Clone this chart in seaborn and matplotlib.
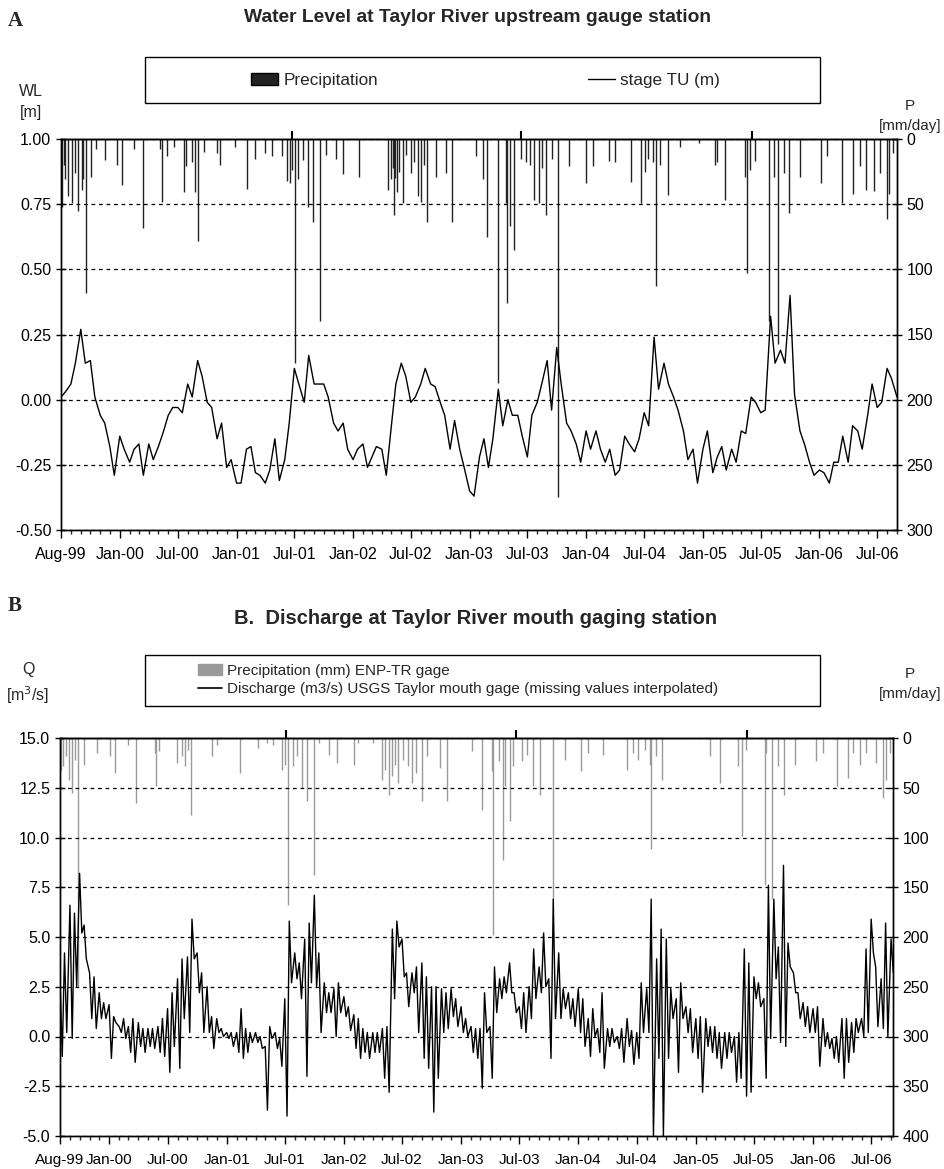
import numpy as np
import pandas as pd
import matplotlib
matplotlib.use("Agg")
import matplotlib.pyplot as plt
import matplotlib.dates as mdates
from matplotlib.patches import Rectangle, Patch
from matplotlib.lines import Line2D
import seaborn as sns

# ---------------- Panel A: upstream stage (semi-monthly readings, m), from 1999-07-01
stage_tu = [
    0.01, 0.03, 0.06, 0.14, 0.27, 0.14, 0.15, 0.01, -0.06, -0.09,
    -0.18, -0.29, -0.14, -0.19, -0.24, -0.19, -0.17, -0.29, -0.17, -0.23,
    -0.18, -0.13, -0.06, -0.03, -0.03, -0.05, 0.06, 0.01, 0.15, 0.09,
    -0.01, -0.03, -0.15, -0.09, -0.26, -0.23, -0.32, -0.32, -0.19, -0.18,
    -0.28, -0.29, -0.32, -0.27, -0.15, -0.31, -0.23, -0.09, 0.12, 0.06,
    -0.01, 0.17, 0.06, 0.06, 0.06, 0.01, -0.09, -0.12, -0.09, -0.19,
    -0.23, -0.19, -0.17, -0.26, -0.22, -0.18, -0.19, -0.29, -0.10, 0.06,
    0.14, 0.09, -0.01, 0.01, 0.06, 0.12, 0.06, 0.05, -0.01, -0.06,
    -0.19, -0.08, -0.19, -0.26, -0.35, -0.37, -0.22, -0.15, -0.26, -0.15,
    0.04, -0.10, 0.00, -0.06, -0.06, -0.14, -0.22, -0.06, -0.01, 0.06,
    0.15, -0.04, 0.20, 0.06, -0.09, -0.12, -0.17, -0.24, -0.12, -0.19,
    -0.12, -0.19, -0.24, -0.19, -0.29, -0.27, -0.14, -0.17, -0.20, -0.15,
    -0.05, -0.10, 0.24, 0.04, 0.14, 0.06, 0.01, -0.04, -0.12, -0.23,
    -0.19, -0.32, -0.19, -0.12, -0.28, -0.22, -0.18, -0.27, -0.19, -0.24,
    -0.12, -0.13, 0.01, -0.01, -0.05, -0.04, 0.32, 0.14, 0.19, 0.14,
    0.40, 0.02, -0.12, -0.17, -0.24, -0.29, -0.27, -0.28, -0.32, -0.24,
    -0.24, -0.14, -0.24, -0.10, -0.12, -0.19, -0.06, 0.06, -0.03, -0.01,
    0.12, 0.08, 0.01,
]

precip_a_dates = [
    "1999-07-03", "1999-07-10", "1999-07-14", "1999-07-24", "1999-08-04", "1999-08-14",
    "1999-08-24", "1999-09-04", "1999-09-09", "1999-09-17", "1999-10-02", "1999-10-20",
    "1999-11-16", "1999-12-25", "2000-01-07", "2000-02-15", "2000-03-15", "2000-05-06",
    "2000-05-11", "2000-05-27", "2000-06-20", "2000-07-20", "2000-07-27", "2000-08-13",
    "2000-08-24", "2000-09-03", "2000-09-20", "2000-10-31", "2000-11-10", "2000-12-27",
    "2001-02-04", "2001-02-28", "2001-03-31", "2001-04-21", "2001-05-22", "2001-06-07",
    "2001-06-17", "2001-06-25", "2001-07-03", "2001-07-13", "2001-07-29", "2001-08-14",
    "2001-08-29", "2001-09-19", "2001-10-07", "2001-11-07", "2001-12-01", "2002-01-20",
    "2002-04-21", "2002-05-01", "2002-05-05", "2002-05-09", "2002-05-13", "2002-05-18",
    "2002-05-25", "2002-06-06", "2002-06-15", "2002-07-02", "2002-07-12", "2002-07-23",
    "2002-08-03", "2002-08-12", "2002-08-21", "2002-09-19", "2002-10-18", "2002-11-08",
    "2003-01-22", "2003-02-12", "2003-02-25", "2003-03-31", "2003-04-26", "2003-04-29",
    "2003-05-08", "2003-05-20", "2003-06-10", "2003-06-27", "2003-07-10", "2003-07-21",
    "2003-08-06", "2003-08-15", "2003-08-27", "2003-09-15", "2003-10-06", "2003-11-10",
    "2004-01-01", "2004-01-24", "2004-03-12", "2004-03-30", "2004-05-21", "2004-06-22",
    "2004-07-02", "2004-07-12", "2004-07-28", "2004-08-08", "2004-08-21", "2004-09-15",
    "2004-10-20", "2004-12-21", "2005-02-07", "2005-02-14", "2005-03-11", "2005-05-12",
    "2005-05-19", "2005-05-28", "2005-06-12", "2005-07-27", "2005-08-11", "2005-08-25",
    "2005-09-11", "2005-09-27", "2005-10-31", "2006-01-07", "2006-01-26", "2006-03-13",
    "2006-04-16", "2006-05-07", "2006-05-28", "2006-06-21", "2006-07-11", "2006-07-31",
    "2006-08-07", "2006-08-20",
]
precip_a_mm = [
    52, 20, 31, 44, 49, 26,
    55, 39, 31, 118, 29, 8,
    16, 20, 35, 8, 68, 8,
    48, 13, 6, 41, 21, 18,
    41, 78, 10, 11, 20, 6,
    38, 15, 11, 13, 13, 32,
    34, 24, 172, 31, 16, 52,
    64, 140, 12, 15, 27, 29,
    39, 31, 22, 58, 30, 41,
    25, 49, 12, 26, 18, 44,
    48, 20, 64, 29, 26, 64,
    13, 31, 75, 187, 49, 126,
    67, 85, 15, 18, 20, 47,
    49, 22, 58, 15, 275, 21,
    34, 21, 17, 18, 33, 49,
    25, 15, 18, 113, 20, 43,
    6, 3, 20, 18, 47, 29,
    103, 24, 17, 140, 29, 157,
    26, 57, 29, 34, 13, 49,
    42, 21, 39, 40, 26, 61,
    42, 11,
]

xticks_a = ["1999-07-01", "2000-01-01", "2000-07-01", "2001-01-01", "2001-07-01",
            "2002-01-01", "2002-07-01", "2003-01-01", "2003-07-01", "2004-01-01",
            "2004-07-01", "2005-01-01", "2005-07-01", "2006-01-01", "2006-07-01"]
xlabels_a = ["Aug-99", "Jan-00", "Jul-00", "Jan-01", "Jul-01", "Jan-02", "Jul-02",
             "Jan-03", "Jul-03", "Jan-04", "Jul-04", "Jan-05", "Jul-05", "Jan-06", "Jul-06"]
top_ticks_a = ["2001-06-25", "2003-06-12", "2005-06-03"]

# ---------------- Panel B: discharge at mouth, semi-monthly high / low readings (m3/s), from 1999-08-01
q_hi = [
    3.0, 4.2, 6.6, 6.2, 8.2, 5.6, 3.2, 3.0, 2.2, 1.7,
    1.6, 1.0, 0.5, 0.9, 0.5, 0.9, 0.7, 0.4, 0.4, 0.4,
    0.5, 0.9, 1.4, 2.2, 2.9, 3.9, 4.0, 5.9, 4.2, 3.2,
    2.5, 1.0, 0.9, 0.4, 0.2, 0.2, 0.2, 1.4, 0.4, 0.2,
    0.2, 0.0, -0.5, 0.5, 0.2, -0.1, 1.9, 5.8, 4.2, 3.7,
    4.9, 5.7, 7.1, 4.2, 2.7, 2.2, 2.4, 2.7, 2.0, 1.5,
    1.1, 0.9, 0.4, 0.2, 0.2, 0.2, 0.4, 0.5, 5.4, 5.8,
    4.9, 3.2, 3.2, 3.5, 3.7, 3.0, 2.5, 2.5, 2.4, 2.2,
    2.4, 1.9, 1.5, 0.9, 0.5, 0.4, 0.4, 2.2, 0.5, 3.5,
    2.9, 3.0, 3.7, 2.2, 1.5, 2.2, 2.5, 4.4, 3.5, 5.2,
    2.9, 6.9, 4.2, 2.4, 2.2, 1.9, 2.4, 1.9, 0.9, 1.4,
    0.4, 2.2, 0.4, 0.4, 0.0, 0.4, 0.9, 0.3, 0.2, 2.7,
    2.4, 6.9, 3.9, 5.4, 4.9, 2.4, 1.9, 2.7, 1.5, 1.4,
    0.9, 1.0, 0.9, 0.5, 0.5, 0.2, 0.2, 0.2, 0.0, 0.2,
    4.4, 3.7, 3.0, 2.7, 1.9, 7.6, 6.9, 4.5, 8.6, 4.7,
    3.2, 2.2, 1.7, 1.5, 1.4, 1.5, 0.9, 0.2, -0.1, 0.0,
    0.9, 0.9, 0.7, 0.9, 0.9, 4.4, 5.9, 3.5, 2.9, 5.7,
    4.9,
]
q_lo = [
    -1.0, 0.2, -0.1, 2.5, 5.2, 3.9, 0.9, 0.4, 0.9, 0.9,
    -1.1, 0.7, 0.2, -0.1, -0.8, -1.3, -0.5, -0.8, -0.5, -0.6,
    -0.8, -1.0, -1.8, -0.5, -1.6, 0.9, 0.2, 3.9, 2.2, 0.2,
    0.2, -0.6, 0.2, 0.0, -0.1, -0.5, -0.8, -1.1, -0.8, -0.3,
    -0.3, -0.6, -3.7, -0.1, -0.6, -1.5, -4.0, 2.7, 2.9, 1.9,
    -2.0, 2.7, 2.5, 0.2, 1.2, 1.2, 0.0, 1.2, 1.0, 0.3,
    -0.6, -1.1, -0.8, -1.1, -0.8, -0.8, -2.1, -2.8, 1.9, 4.5,
    3.0, 1.5, 2.2, 0.2, -1.1, -1.6, -3.8, -2.1, 0.2, 0.4,
    1.0, 0.5, 0.2, 0.0, -0.8, -1.1, -2.6, 0.2, -2.1, 1.2,
    1.9, 2.2, 2.2, 1.2, 0.4, 0.2, 0.9, 1.9, 2.2, 2.5,
    -1.1, 0.9, 0.9, 1.4, 0.9, 0.5, 0.2, -0.5, -1.0, 0.0,
    -0.8, -1.6, -0.5, -0.3, -0.6, -1.3, -0.5, -1.4, -1.1, 0.2,
    0.2, -5.0, -1.1, -5.0, -1.1, 0.9, -1.8, 0.9, 0.2, -0.8,
    -1.1, -2.8, -0.5, -0.8, -1.1, -1.6, -1.1, -0.8, -2.3, -2.1,
    -3.0, -2.8, 1.9, 1.5, -2.1, -0.1, 2.9, -0.3, -0.5, 3.5,
    2.2, 0.9, 0.5, 0.2, 0.2, -1.5, -0.5, -0.6, -1.1, -1.3,
    -2.1, -1.3, -0.8, 0.2, 0.0, 0.2, 4.2, 0.5, 0.4, 0.0,
    3.2,
]

precip_b_dates = [
    "1999-08-04", "1999-08-11", "1999-08-20", "1999-08-30", "1999-09-06", "1999-09-17",
    "1999-09-25", "1999-10-15", "1999-11-23", "2000-01-04", "2000-01-19", "2000-03-01",
    "2000-03-25", "2000-05-23", "2000-05-25", "2000-06-05", "2000-07-31", "2000-08-14",
    "2000-08-24", "2000-09-04", "2000-09-12", "2000-11-15", "2000-12-01", "2001-02-12",
    "2001-04-08", "2001-05-06", "2001-05-26", "2001-06-21", "2001-07-02", "2001-07-12",
    "2001-07-28", "2001-08-09", "2001-08-23", "2001-09-09", "2001-09-30", "2001-10-17",
    "2001-11-17", "2001-12-10", "2002-01-31", "2002-02-15", "2002-04-03", "2002-04-29",
    "2002-05-09", "2002-05-20", "2002-05-30", "2002-06-09", "2002-06-20", "2002-07-05",
    "2002-07-21", "2002-07-31", "2002-08-14", "2002-09-02", "2002-09-18", "2002-10-27",
    "2002-11-19", "2003-02-03", "2003-03-06", "2003-04-06", "2003-04-11", "2003-04-30",
    "2003-05-11", "2003-05-18", "2003-06-02", "2003-06-13", "2003-07-09", "2003-07-24",
    "2003-08-14", "2003-09-04", "2003-10-15", "2003-11-21", "2004-01-08", "2004-02-01",
    "2004-03-19", "2004-05-31", "2004-06-19", "2004-07-05", "2004-07-26", "2004-08-10",
    "2004-08-13", "2004-08-31", "2004-09-19", "2005-02-13", "2005-03-16", "2005-05-12",
    "2005-05-26", "2005-06-07", "2005-08-03", "2005-08-09", "2005-08-27", "2005-09-14",
    "2005-10-02", "2005-11-07", "2006-01-11", "2006-02-01", "2006-03-17", "2006-04-20",
    "2006-05-05", "2006-05-26", "2006-06-16", "2006-07-17", "2006-08-07", "2006-08-15",
    "2006-08-28",
]
precip_b_mm = [
    32, 28, 18, 42, 55, 22,
    250, 27, 15, 18, 35, 7,
    65, 15, 48, 13, 25, 18,
    28, 12, 77, 18, 7, 35,
    10, 5, 7, 32, 27, 168,
    28, 18, 50, 63, 138, 5,
    17, 25, 27, 5, 5, 42,
    32, 57, 38, 27, 45, 22,
    28, 45, 35, 63, 18, 30,
    63, 13, 72, 33, 198, 23,
    123, 48, 83, 28, 23, 17,
    48, 57, 163, 22, 33, 15,
    17, 32, 15, 22, 12, 27,
    112, 18, 42, 18, 45, 28,
    98, 12, 148, 15, 162, 28,
    57, 27, 23, 15, 48, 40,
    15, 27, 15, 25, 60, 42,
    15,
]

xticks_b = ["1999-08-01", "2000-01-01", "2000-07-01", "2001-01-01", "2001-07-01",
            "2002-01-01", "2002-07-01", "2003-01-01", "2003-07-01", "2004-01-01",
            "2004-07-01", "2005-01-01", "2005-07-01", "2006-01-01", "2006-07-01"]
xlabels_b = xlabels_a
top_ticks_b = ["2001-07-05", "2003-06-21", "2005-06-09"]

# ---------------- style
sns.set_theme(style="white")
plt.rcParams["font.family"] = ["Liberation Sans", "DejaVu Sans"]
plt.rcParams["axes.linewidth"] = 1.0

W, H = 945, 1169
fig = plt.figure(figsize=(W / 100, H / 100), dpi=100)


def fx(px):
    return px / W


def fy(py):
    return 1 - py / H


def style_panel(ax, ax2, xlim, xticks, xlabels, top_ticks, yticks, yfmt, pticks, xsize):
    ax.set_xlim(pd.Timestamp(xlim[0]), pd.Timestamp(xlim[1]))
    ax.set_xticks(pd.to_datetime(xticks))
    ax.set_xticklabels(xlabels)
    ax.xaxis.set_minor_locator(mdates.MonthLocator())
    ax.set_yticks(yticks)
    ax.set_yticklabels([yfmt.format(v) for v in yticks])
    ax.set_ylim(yticks[0], yticks[-1])
    ax.grid(axis="y", color="black", linestyle=(0, (3, 3)), linewidth=0.9)
    ax.grid(axis="x", visible=False)
    ax.tick_params(axis="x", which="major", direction="out", length=6, width=1,
                   labelsize=xsize, pad=6, colors="black", bottom=True)
    ax.tick_params(axis="x", which="minor", direction="out", length=3, width=1, bottom=True)
    ax.tick_params(axis="y", direction="inout", length=7, width=1, labelsize=11.5,
                   colors="black", left=True)
    ax2.set_ylim(pticks[-1], pticks[0])
    ax2.set_yticks(pticks)
    ax2.tick_params(axis="y", direction="inout", length=7, width=1, labelsize=11.5,
                    colors="black", right=True)
    ax2.grid(False)
    for a in (ax, ax2):
        for s in a.spines.values():
            s.set_color("black")
            s.set_linewidth(1.0)
    ax.set_xlabel("")
    ax.set_ylabel("")
    ax2.set_ylabel("")
    sec = ax.secondary_xaxis("top")
    sec.set_xticks(pd.to_datetime(top_ticks))
    sec.set_xticklabels([])
    sec.tick_params(direction="out", length=6, width=1.5, colors="black")
    ax.set_zorder(ax2.get_zorder() + 1)
    ax.patch.set_visible(False)


# ---------------- Panel A
axA = fig.add_axes([fx(61), fy(530), fx(836), 391 / H])
axA2 = axA.twinx()
dates_a = pd.date_range("1999-07-01", periods=len(stage_tu), freq="SMS")
axA2.vlines(pd.to_datetime(precip_a_dates), 0, precip_a_mm, color="#222222", linewidth=1.0)
sns.lineplot(x=dates_a, y=stage_tu, ax=axA, color="black", linewidth=1.0)
style_panel(axA, axA2, ("1999-07-01", "2006-09-01"), xticks_a, xlabels_a, top_ticks_a,
            [-0.5, -0.25, 0.0, 0.25, 0.5, 0.75, 1.0], "{:.2f}", list(range(0, 301, 50)), 11.5)

# ---------------- Panel B
axB = fig.add_axes([fx(60), fy(1136), fx(833), 398 / H])
axB2 = axB.twinx()
base_b = pd.date_range("1999-08-01", periods=len(q_hi), freq="SMS")
dates_b = []
q_series = []
for d, h, l in zip(base_b, q_hi, q_lo):
    dates_b += [d, d + pd.Timedelta(days=7)]
    q_series += [h, l]
axB2.vlines(pd.to_datetime(precip_b_dates), 0, precip_b_mm, color="#9a9a9a", linewidth=1.0)
sns.lineplot(x=dates_b, y=q_series, ax=axB, color="black", linewidth=1.0)
style_panel(axB, axB2, ("1999-08-01", "2006-09-07"), xticks_b, xlabels_b, top_ticks_b,
            [-5.0, -2.5, 0.0, 2.5, 5.0, 7.5, 10.0, 12.5, 15.0], "{:.1f}",
            list(range(0, 401, 50)), 11)

# ---------------- titles, labels, legends
fig.text(fx(8), fy(21), "A", family=["Liberation Serif", "DejaVu Serif"], weight="bold",
         fontsize=15, va="center", ha="left")
fig.text(fx(8), fy(606), "B", family=["Liberation Serif", "DejaVu Serif"], weight="bold",
         fontsize=15, va="center", ha="left")
fig.text(fx(478), fy(18), "Water Level at Taylor River upstream gauge station",
         ha="center", va="center", weight="bold", fontsize=13.9)
fig.text(fx(476), fy(618), "B.  Discharge at Taylor River mouth gaging station",
         ha="center", va="center", weight="bold", fontsize=14.5)

fig.text(fx(31), fy(102), "WL\n[m]", ha="center", va="center", fontsize=11.5, linespacing=1.5)
fig.text(fx(910), fy(116), "P\n[mm/day]", ha="center", va="center", fontsize=11, linespacing=1.5)
fig.text(fx(28), fy(684), "Q\n[m$^3$/s]", ha="center", va="center", fontsize=11.5, linespacing=1.4)
fig.text(fx(910), fy(684), "P\n[mm/day]", ha="center", va="center", fontsize=11, linespacing=1.5)

fig.add_artist(Rectangle((fx(145), fy(103)), fx(675), 46 / H, transform=fig.transFigure,
                         fill=False, edgecolor="black", linewidth=1.0))
fig.add_artist(Rectangle((fx(145), fy(706)), fx(675), 51 / H, transform=fig.transFigure,
                         fill=False, edgecolor="black", linewidth=1.0))

leg_kw = dict(frameon=False, handlelength=1.6, handletextpad=0.3,
              borderpad=0, borderaxespad=0)
fig.legend([Patch(facecolor="#222222", edgecolor="black")], ["Precipitation"],
           loc="center left", bbox_to_anchor=(fx(251), fy(80)), fontsize=12.3, **leg_kw)
fig.legend([Line2D([], [], color="black", linewidth=1.0)], ["stage TU (m)"],
           loc="center left", bbox_to_anchor=(fx(588), fy(80)), fontsize=12.3, **leg_kw)
fig.legend([Patch(facecolor="#9a9a9a", edgecolor="#9a9a9a"),
            Line2D([], [], color="black", linewidth=1.2)],
           ["Precipitation (mm) ENP-TR gage",
            "Discharge (m3/s) USGS Taylor mouth gage (missing values interpolated)"],
           loc="center left", bbox_to_anchor=(fx(198), fy(680)), labelspacing=0.25,
           fontsize=11, **leg_kw)

fig.savefig("out.png", dpi=100)
